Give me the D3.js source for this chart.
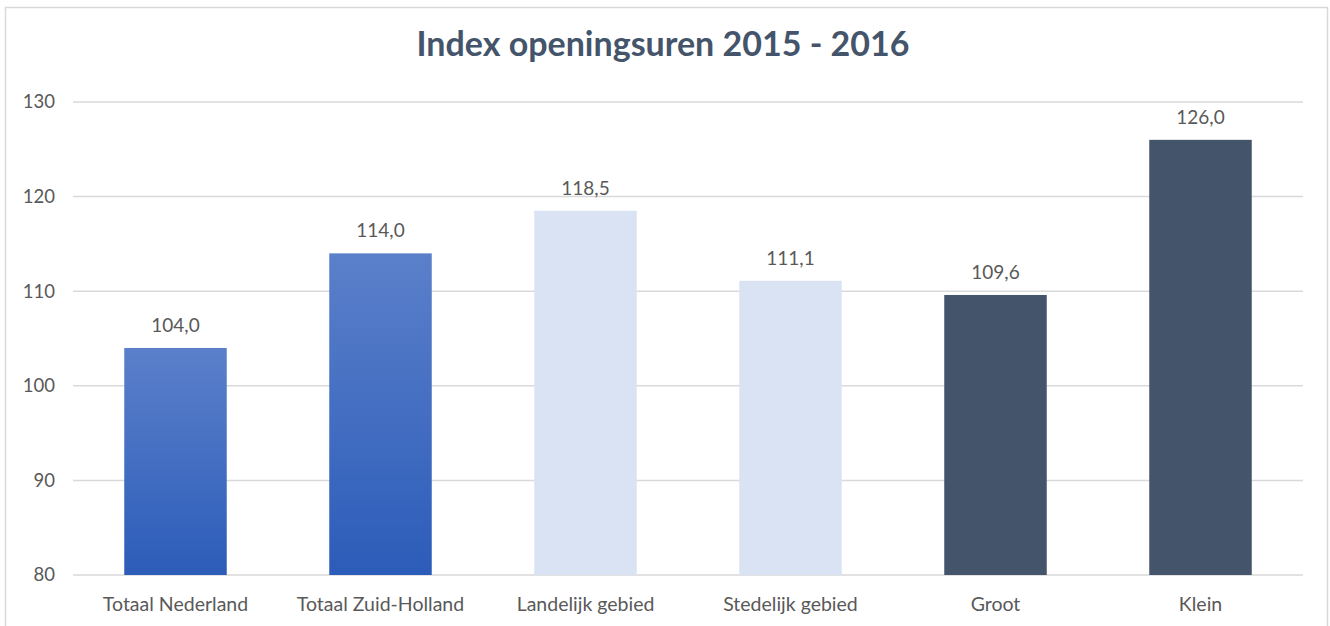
<!DOCTYPE html>
<html><head><meta charset="utf-8">
<script src="https://cdn.jsdelivr.net/npm/d3@7"></script>
<style>body{margin:0;background:#fff}svg{display:block}</style>
</head><body>
<svg id="c" width="1330" height="626"></svg>
<script>
const categories = ["Totaal Nederland","Totaal Zuid-Holland","Landelijk gebied","Stedelijk gebied","Groot","Klein"];
const values = [104.0, 114.0, 118.5, 111.1, 109.6, 126.0];
const groups = ["blue","blue","light","light","dark","dark"];
const yTicks = [80, 90, 100, 110, 120, 130];
const title = "Index openingsuren 2015 - 2016";

const svg = d3.select("#c");
const font = "Lato, 'Open Sans', sans-serif";
const W = 1330, H = 626;
const m = {left: 73, right: 27, top: 102, bottom: 51};

svg.append("rect").attr("x",5.5).attr("y",7.5).attr("width",1322).attr("height",640)
  .attr("fill","#fff").attr("stroke","#d9d9d9").attr("stroke-width",1.5);

const defs = svg.append("defs");
const grad = defs.append("linearGradient").attr("id","gBlue").attr("x1",0).attr("y1",0).attr("x2",0).attr("y2",1);
grad.append("stop").attr("offset","0%").attr("stop-color","#5b80ca");
grad.append("stop").attr("offset","100%").attr("stop-color","#2c5cb9");

const x = d3.scaleBand().domain(categories).range([m.left, W - m.right]).paddingInner(0.5).paddingOuter(0.25);
const y = d3.scaleLinear().domain([80,130]).range([H - m.bottom, m.top]);

const grid = svg.append("g");
grid.selectAll("line").data(yTicks).join("line")
  .attr("x1", m.left).attr("x2", W - m.right)
  .attr("y1", d => y(d)).attr("y2", d => y(d))
  .attr("stroke","#d9d9d9").attr("stroke-width",1.5);

const yAxis = d3.axisLeft(y).tickValues(yTicks).tickSize(0).tickPadding(0).tickFormat(d3.format("d"));
const ga = svg.append("g").attr("transform",`translate(${m.left-18},0)`).call(yAxis);
ga.select(".domain").remove();
ga.selectAll("text").attr("font-family",font).attr("font-size",18.5).attr("fill","#595959");

const fill = g => g==="blue" ? "url(#gBlue)" : g==="light" ? "#dae3f3" : "#44546a";

svg.append("g").selectAll("rect").data(categories).join("rect")
  .attr("x", d => x(d)).attr("width", x.bandwidth())
  .attr("y", (d,i) => y(values[i])).attr("height", (d,i) => y(80) - y(values[i]))
  .attr("fill", (d,i) => fill(groups[i]));

const fmt = v => v.toFixed(1).replace(".", ",");
svg.append("g").selectAll("text").data(categories).join("text")
  .attr("x", d => x(d) + x.bandwidth()/2)
  .attr("y", (d,i) => y(values[i]) - 16)
  .attr("text-anchor","middle").attr("font-family",font).attr("font-size",19).attr("fill","#595959")
  .text((d,i) => fmt(values[i]));

const xAxis = d3.axisBottom(x).tickSize(0).tickPadding(0);
const gx = svg.append("g").attr("transform",`translate(0,${y(80)+36})`).call(xAxis);
gx.select(".domain").remove();
gx.selectAll("text").attr("dy",0).attr("font-family",font).attr("font-size",19.5).attr("fill","#595959");

svg.append("text").attr("x", 663).attr("y", 56).attr("text-anchor","middle")
  .attr("font-family",font).attr("font-weight","bold").attr("font-size",34).attr("fill","#44546a")
  .text(title);
</script>
</body></html>
